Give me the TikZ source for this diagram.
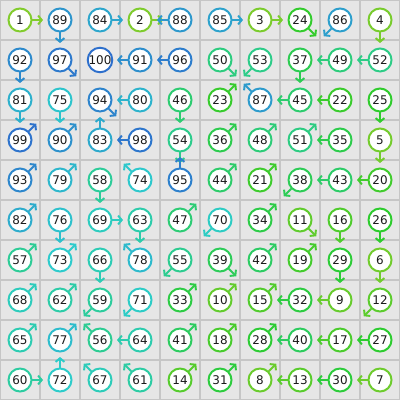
\documentclass[tikz,border=0pt]{standalone}
\usepackage{fontspec}
\setmainfont{DejaVu Sans}
\usepackage{tikz}
\usepackage{xcolor}
\usetikzlibrary{arrows.meta}
\definecolor{cellbg}{HTML}{E6E6E6}
\definecolor{cellline}{HTML}{C6C6C6}
\definecolor{ink}{HTML}{1A1A1A}
\tikzset{
  cellgrid/.style={draw=cellline,line width=1.4pt},
  numdisc/.style={circle,fill=white,line width=1.4pt,minimum size=0.575cm,
                  inner sep=0pt,font=\fontsize{8.5}{10}\selectfont,text=ink},
  signarr/.style={-{Straight Barb[length=0.9mm,width=2.2mm]},line width=1.4pt}
}

\begin{document}
\begin{tikzpicture}[x=1cm,y=1cm]
    \useasboundingbox (0,0) rectangle (10,-10);
    \fill[cellbg] (0,0) rectangle (10,-10);
    \draw[cellgrid] (0,0) grid (10,-10);
    % number/direction, row by row (-1: last number, no arrow)
    \foreach \cells [count=\row from 0] in {
      {1/0,89/270,84/0,2/0,88/180,85/0,3/0,24/315,86/225,4/270},
      {92/270,97/315,100/-1,91/180,96/180,50/315,53/225,37/270,49/180,52/180},
      {81/270,75/270,94/315,80/180,46/270,23/45,87/135,45/180,22/180,25/270},
      {99/45,90/45,83/90,98/180,54/270,36/45,48/45,51/45,35/180,5/270},
      {93/45,79/45,58/270,74/135,95/90,44/45,21/45,38/225,43/180,20/180},
      {82/45,76/270,69/0,63/270,47/45,70/225,34/45,11/315,16/270,26/270},
      {57/45,73/45,66/270,78/135,55/225,39/315,42/45,19/45,29/270,6/270},
      {68/45,62/45,59/225,71/225,33/45,10/45,15/45,32/180,9/180,12/225},
      {65/45,77/45,56/135,64/180,41/45,18/45,28/45,40/180,17/180,27/180},
      {60/0,72/90,67/135,61/135,14/45,31/45,8/45,13/180,30/180,7/180}} {
      \foreach \num/\dir [count=\col from 0] in \cells {
        \pgfmathsetmacro\hue{88+(\num-1)*127/99}
        \definecolor{huecol}{Hsb}{\hue,0.78,0.8}
        \colorlet{numcol}[rgb]{huecol}
        \node[numdisc,draw=numcol] (c\num) at (\col+0.5,-\row-0.5) {\num};
        \ifnum\dir>-1
          \draw[signarr,numcol] (c\num.\dir) -- ++(\dir:0.2625);
        \fi
      }
    }
  \end{tikzpicture}
\end{document}
